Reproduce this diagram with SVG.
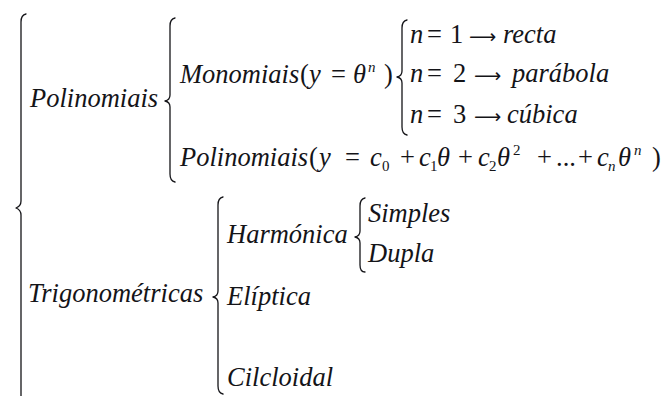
<svg xmlns="http://www.w3.org/2000/svg" width="667" height="396" viewBox="0 0 667 396">
<style>
text{font-family:'Liberation Serif','Times New Roman',serif;font-size:26.5px;fill:#141418;font-style:italic}
.u{font-style:normal}
.s{font-size:15px}
.a{font-family:'DejaVu Sans',sans-serif;font-style:normal;font-size:19px}
.b{fill:none;stroke:#141418;stroke-width:1.3;stroke-linecap:round;stroke-linejoin:round}
</style>
<rect width="667" height="396" fill="#fff"/>
<g id="connectors">
<path class="b" d="M26 14 Q21 15 21 22 L21 201 Q21 206 16 208 Q21 210 21 215 L21 400"/>
<path class="b" d="M175 18 Q170 19 170 26 L170 95 Q170 100 165 101 Q170 102 170 107 L170 174 Q170 181 175 182"/>
<path class="b" d="M407 20 Q402 21 402 28 L402 71 Q402 76 397 77 Q402 78 402 83 L402 127 Q402 134 407 135"/>
<path class="b" d="M223 197 Q218 198 218 205 L218 291 Q218 296 213 297 Q218 298 218 303 L218 386 Q218 393 223 394"/>
<path class="b" d="M365 198 Q360 199 360 206 L360 231 Q360 236 355 237 Q360 238 360 243 L360 265 Q360 272 365 272"/>
</g>
<g id="polinomiais"><text x="30" y="107">Polinomiais</text></g>
<g id="monomiais"><text y="83"><tspan x="180">Monomiais</tspan><tspan class="u" x="300">(</tspan><tspan x="309">y</tspan><tspan class="u" x="331">=</tspan><tspan x="353">θ</tspan><tspan class="s" x="368" y="72">n</tspan><tspan class="u" x="384" y="83">)</tspan></text></g>
<g id="n1"><text y="43"><tspan x="410">n</tspan><tspan class="u" x="427">=</tspan><tspan class="u" x="450">1</tspan><tspan class="a" x="469">⟶</tspan><tspan x="503">recta</tspan></text></g>
<g id="n2"><text y="82"><tspan x="410">n</tspan><tspan class="u" x="427">=</tspan><tspan class="u" x="453">2</tspan><tspan class="a" x="474">⟶</tspan><tspan x="512">parábola</tspan></text></g>
<g id="n3"><text y="123"><tspan x="410">n</tspan><tspan class="u" x="427">=</tspan><tspan class="u" x="453">3</tspan><tspan class="a" x="474">⟶</tspan><tspan x="507">cúbica</tspan></text></g>
<g id="polinomiais2"><text y="166"><tspan x="180">Polinomiais</tspan><tspan class="u" x="309">(</tspan><tspan x="319">y</tspan><tspan class="u" x="345">=</tspan><tspan x="370">c</tspan><tspan class="s u" x="382" y="171">0</tspan><tspan class="u" x="400" y="166">+</tspan><tspan x="419">c</tspan><tspan class="s u" x="430" y="171">1</tspan><tspan x="437" y="166">θ</tspan><tspan class="u" x="458">+</tspan><tspan x="478">c</tspan><tspan class="s u" x="489" y="171">2</tspan><tspan x="497" y="166">θ</tspan><tspan class="s u" x="513" y="155">2</tspan><tspan class="u" x="537" y="166">+</tspan><tspan class="u" x="556">...</tspan><tspan class="u" x="578">+</tspan><tspan x="597">c</tspan><tspan class="s" x="608" y="171">n</tspan><tspan x="618" y="166">θ</tspan><tspan class="s" x="634" y="155">n</tspan><tspan class="u" x="652" y="166">)</tspan></text></g>
<g id="trigonometricas"><text x="28" y="302">Trigonométricas</text></g>
<g id="harmonica"><text x="227" y="243">Harmónica</text></g>
<g id="simples"><text x="368" y="222">Simples</text></g>
<g id="dupla"><text x="368" y="262">Dupla</text></g>
<g id="eliptica"><text x="227" y="305">Elíptica</text></g>
<g id="cilcloidal"><text x="227" y="386">Cilcloidal</text></g>
</svg>
